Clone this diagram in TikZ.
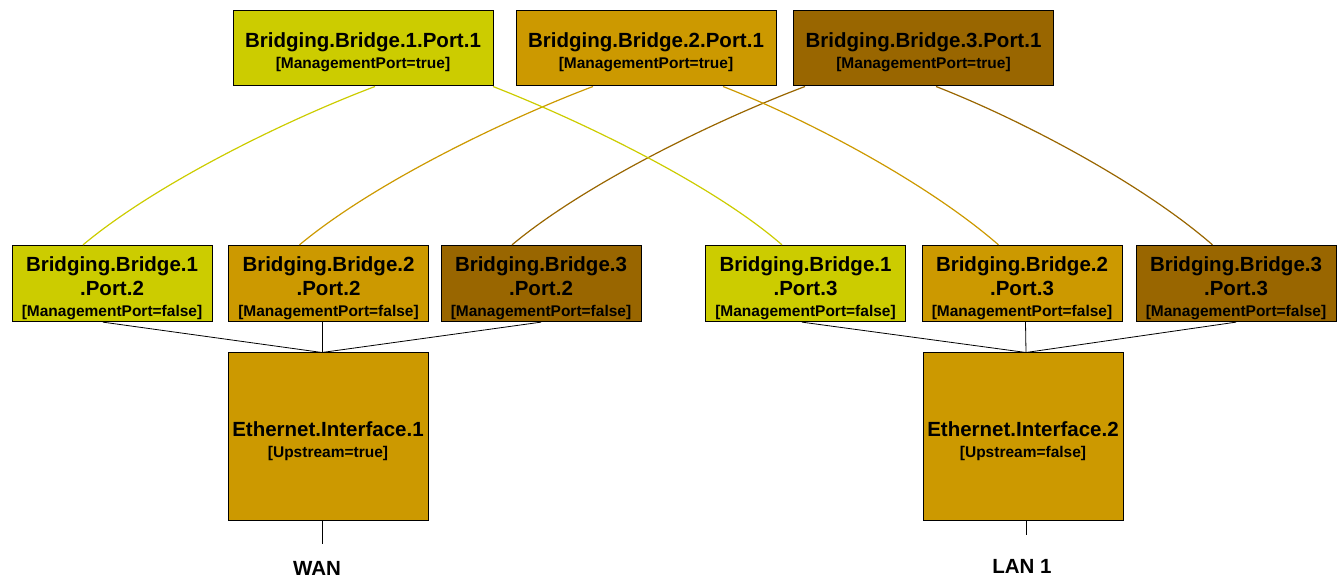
\documentclass[tikz,border=0pt]{standalone}
\usepackage{fontspec}
\setmainfont{Liberation Sans}
\definecolor{br1}{HTML}{CCCC00}
\definecolor{br2}{HTML}{CC9900}
\definecolor{br3}{HTML}{996600}
\newcommand\attr[1]{{\fontsize{15.5}{18}\selectfont #1}}

\begin{document}
\begin{tikzpicture}[x=1pt,y=-1pt,
  port/.style={draw=black,line width=1pt,align=center,inner sep=2pt,
    font=\bfseries\fontsize{20.5}{24}\selectfont},
  mgmt/.style={port,minimum width=260pt,minimum height=75pt,text height=44pt},
  lport/.style={port,minimum width=200pt,minimum height=75pt,text height=69pt},
  iface/.style={port,fill=br2,minimum width=200pt,minimum height=167pt,text height=46pt},
  wire/.style={line width=0.8pt},
  link/.style={line width=1.2pt},
  lbl/.style={font=\bfseries\fontsize{20.5}{24}\selectfont,inner sep=0pt}]
  \useasboundingbox (0,0) rectangle (1342,577);
  % management ports
  \foreach \i/\x in {1/363,2/646,3/923.5}
    \node[mgmt,fill=br\i] (p\i1) at (\x,48.5) {Bridging.Bridge.\i.Port.1\\[-3pt]\attr{[ManagementPort=true]}};
  % ports on the WAN side and on the LAN side
  \foreach \i/\x in {1/112,2/328.5,3/541}
    \node[lport,fill=br\i] (p\i2) at (\x,283.5) {Bridging.Bridge.\i\\.Port.2\\[-3pt]\attr{[ManagementPort=false]}};
  \foreach \i/\x in {1/805.5,2/1022,3/1236}
    \node[lport,fill=br\i] (p\i3) at (\x,283.5) {Bridging.Bridge.\i\\.Port.3\\[-3pt]\attr{[ManagementPort=false]}};
  % interfaces
  \node[iface] (e1) at (328,436.5) {Ethernet.Interface.1\\[-3pt]\attr{[Upstream=true]}};
  \node[iface] (e2) at (1023,436.5) {Ethernet.Interface.2\\[-3pt]\attr{[Upstream=false]}};
  \coordinate (j1) at ([xshift=-6pt]e1.north);
  \coordinate (j2) at ([xshift=3pt]e2.north);
  \foreach \i/\s in {1/-9,2/-6.5,3/0}
    \draw[wire] ([xshift=\s pt]p\i2.south) -- (j1);
  \foreach \i/\s in {1/-3.5,2/3.5,3/0}
    \draw[wire] ([xshift=\s pt]p\i3.south) -- (j2);
  \draw[wire] ([xshift=-6pt]e1.south) -- +(0,23) node[lbl,below=17pt,xshift=-5pt] (wan) {WAN};
  \draw[wire] ([xshift=3pt]e2.south) -- +(0,14) node[lbl,below=24pt,xshift=-4pt] (lan) {LAN 1};
  % bridge links
  \foreach \i/\s in {1/12,2/-53,3/-118.5}
    \draw[link,draw=br\i] ([xshift=\s pt]p\i1.south) .. controls +(-90,34) and +(73,-61) .. ([xshift=-29pt]p\i2.north);
  \foreach \i/\s in {1/130,2/77,3/12.5}
    \draw[link,draw=br\i] ([xshift=\s pt]p\i1.south) .. controls +(87,34) and +(-70,-61) .. ([xshift=-23.5pt]p\i3.north);
\end{tikzpicture}
\end{document}
